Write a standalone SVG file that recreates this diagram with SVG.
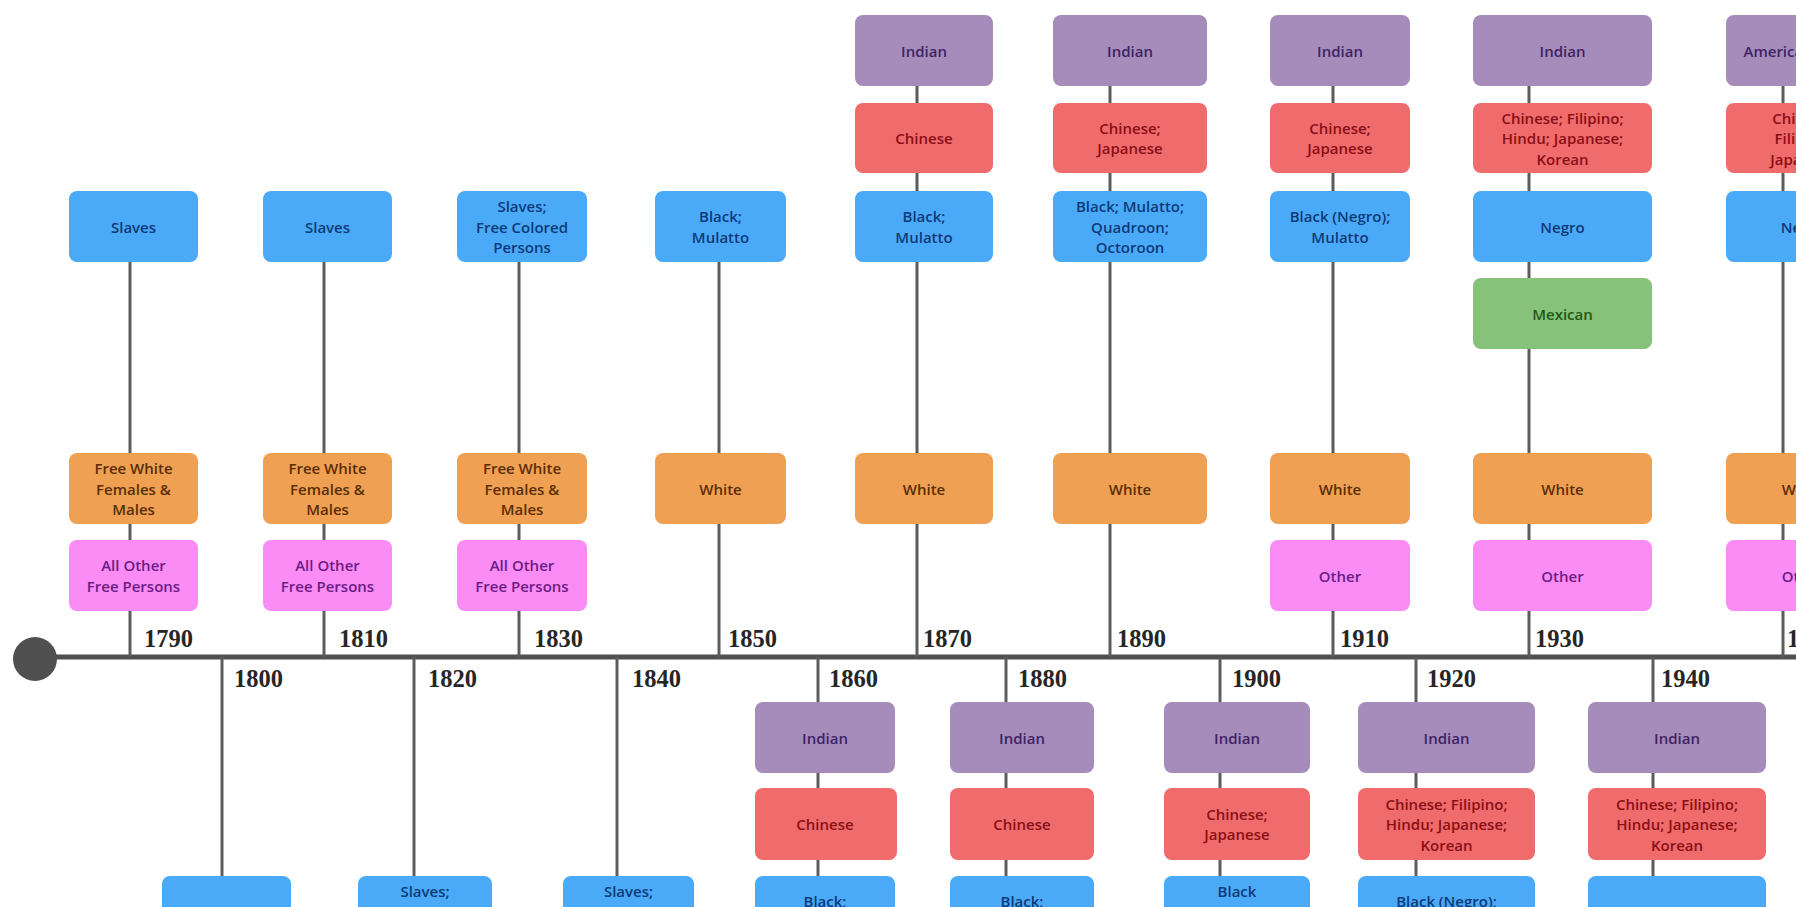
<svg xmlns="http://www.w3.org/2000/svg" width="1796" height="907" viewBox="0 0 1796 907">
<style>
.b{stroke:none}
.p{fill:#A68CBA}.r{fill:#F06B6B}.u{fill:#4BAAF8}.g{fill:#86C27A}.o{fill:#F0A052}.k{fill:#FB8BF5}
.t{font-family:"Open Sans","Liberation Sans",sans-serif;font-size:15px;font-weight:600;text-anchor:middle;dominant-baseline:central}
.tp{fill:#3E2266}.tr{fill:#8A0F16}.tu{fill:#0B3A78}.tg{fill:#1E5A14}.to{fill:#5A2E05}.tk{fill:#6B1C85}
.yr{font-family:"Liberation Serif","Times New Roman",serif;font-size:24.5px;font-weight:bold;fill:#262626}
.stem{stroke:#5c5c5c;stroke-width:3;fill:none}
.axis{stroke:#505050;stroke-width:5;fill:none}
</style>
<rect width="1796" height="907" fill="#ffffff"/>
<g id="connectors">
<line class="axis" x1="35" y1="657" x2="1796" y2="657"/>
<circle cx="35" cy="659" r="22" fill="#505050"/>
<line class="stem" x1="130" y1="230" x2="130" y2="657"/>
<line class="stem" x1="324" y1="230" x2="324" y2="657"/>
<line class="stem" x1="519" y1="230" x2="519" y2="657"/>
<line class="stem" x1="719" y1="230" x2="719" y2="657"/>
<line class="stem" x1="917" y1="50" x2="917" y2="657"/>
<line class="stem" x1="1110" y1="50" x2="1110" y2="657"/>
<line class="stem" x1="1333" y1="50" x2="1333" y2="657"/>
<line class="stem" x1="1529" y1="50" x2="1529" y2="657"/>
<line class="stem" x1="1783" y1="50" x2="1783" y2="657"/>
<line class="stem" x1="222" y1="657" x2="222" y2="907"/>
<line class="stem" x1="414" y1="657" x2="414" y2="907"/>
<line class="stem" x1="617" y1="657" x2="617" y2="907"/>
<line class="stem" x1="818" y1="657" x2="818" y2="907"/>
<line class="stem" x1="1006" y1="657" x2="1006" y2="907"/>
<line class="stem" x1="1220" y1="657" x2="1220" y2="907"/>
<line class="stem" x1="1416" y1="657" x2="1416" y2="907"/>
<line class="stem" x1="1653" y1="657" x2="1653" y2="907"/>
</g>
<g id="year-labels">
<text class="yr" x="144" y="647">1790</text>
<text class="yr" x="339" y="647">1810</text>
<text class="yr" x="534" y="647">1830</text>
<text class="yr" x="728" y="647">1850</text>
<text class="yr" x="923" y="647">1870</text>
<text class="yr" x="1117" y="647">1890</text>
<text class="yr" x="1340" y="647">1910</text>
<text class="yr" x="1535" y="647">1930</text>
<text class="yr" x="1787" y="647">1950</text>
<text class="yr" x="234" y="687">1800</text>
<text class="yr" x="428" y="687">1820</text>
<text class="yr" x="632" y="687">1840</text>
<text class="yr" x="829" y="687">1860</text>
<text class="yr" x="1018" y="687">1880</text>
<text class="yr" x="1232" y="687">1900</text>
<text class="yr" x="1427" y="687">1920</text>
<text class="yr" x="1661" y="687">1940</text>
</g>

<g id="n1790">
<rect class="u" x="69" y="191" width="129" height="71" rx="8"/>
<text class="t tu" x="133.5" y="226.5">Slaves</text>
<rect class="o" x="69" y="453" width="129" height="71" rx="8"/>
<text class="t to" x="133.5" y="488.5"><tspan x="133.5" dy="-20.5">Free White</tspan><tspan x="133.5" dy="20.5">Females &amp;</tspan><tspan x="133.5" dy="20.5">Males</tspan></text>
<rect class="k" x="69" y="540" width="129" height="71" rx="8"/>
<text class="t tk" x="133.5" y="575.5"><tspan x="133.5" dy="-10.25">All Other</tspan><tspan x="133.5" dy="20.5">Free Persons</tspan></text>
</g>
<g id="n1810">
<rect class="u" x="263" y="191" width="129" height="71" rx="8"/>
<text class="t tu" x="327.5" y="226.5">Slaves</text>
<rect class="o" x="263" y="453" width="129" height="71" rx="8"/>
<text class="t to" x="327.5" y="488.5"><tspan x="327.5" dy="-20.5">Free White</tspan><tspan x="327.5" dy="20.5">Females &amp;</tspan><tspan x="327.5" dy="20.5">Males</tspan></text>
<rect class="k" x="263" y="540" width="129" height="71" rx="8"/>
<text class="t tk" x="327.5" y="575.5"><tspan x="327.5" dy="-10.25">All Other</tspan><tspan x="327.5" dy="20.5">Free Persons</tspan></text>
</g>
<g id="n1830">
<rect class="u" x="457" y="191" width="130" height="71" rx="8"/>
<text class="t tu" x="522" y="226.5"><tspan x="522" dy="-20.5">Slaves;</tspan><tspan x="522" dy="20.5">Free Colored</tspan><tspan x="522" dy="20.5">Persons</tspan></text>
<rect class="o" x="457" y="453" width="130" height="71" rx="8"/>
<text class="t to" x="522" y="488.5"><tspan x="522" dy="-20.5">Free White</tspan><tspan x="522" dy="20.5">Females &amp;</tspan><tspan x="522" dy="20.5">Males</tspan></text>
<rect class="k" x="457" y="540" width="130" height="71" rx="8"/>
<text class="t tk" x="522" y="575.5"><tspan x="522" dy="-10.25">All Other</tspan><tspan x="522" dy="20.5">Free Persons</tspan></text>
</g>
<g id="n1850">
<rect class="u" x="655" y="191" width="131" height="71" rx="8"/>
<text class="t tu" x="720.5" y="226.5"><tspan x="720.5" dy="-10.25">Black;</tspan><tspan x="720.5" dy="20.5">Mulatto</tspan></text>
<rect class="o" x="655" y="453" width="131" height="71" rx="8"/>
<text class="t to" x="720.5" y="488.5">White</text>
</g>
<g id="n1870">
<rect class="p" x="855" y="15" width="138" height="71" rx="8"/>
<text class="t tp" x="924" y="50.5">Indian</text>
<rect class="r" x="855" y="103" width="138" height="70" rx="8"/>
<text class="t tr" x="924" y="138">Chinese</text>
<rect class="u" x="855" y="191" width="138" height="71" rx="8"/>
<text class="t tu" x="924" y="226.5"><tspan x="924" dy="-10.25">Black;</tspan><tspan x="924" dy="20.5">Mulatto</tspan></text>
<rect class="o" x="855" y="453" width="138" height="71" rx="8"/>
<text class="t to" x="924" y="488.5">White</text>
</g>
<g id="n1890">
<rect class="p" x="1053" y="15" width="154" height="71" rx="8"/>
<text class="t tp" x="1130" y="50.5">Indian</text>
<rect class="r" x="1053" y="103" width="154" height="70" rx="8"/>
<text class="t tr" x="1130" y="138"><tspan x="1130" dy="-10.25">Chinese;</tspan><tspan x="1130" dy="20.5">Japanese</tspan></text>
<rect class="u" x="1053" y="191" width="154" height="71" rx="8"/>
<text class="t tu" x="1130" y="226.5"><tspan x="1130" dy="-20.5">Black; Mulatto;</tspan><tspan x="1130" dy="20.5">Quadroon;</tspan><tspan x="1130" dy="20.5">Octoroon</tspan></text>
<rect class="o" x="1053" y="453" width="154" height="71" rx="8"/>
<text class="t to" x="1130" y="488.5">White</text>
</g>
<g id="n1910">
<rect class="p" x="1270" y="15" width="140" height="71" rx="8"/>
<text class="t tp" x="1340" y="50.5">Indian</text>
<rect class="r" x="1270" y="103" width="140" height="70" rx="8"/>
<text class="t tr" x="1340" y="138"><tspan x="1340" dy="-10.25">Chinese;</tspan><tspan x="1340" dy="20.5">Japanese</tspan></text>
<rect class="u" x="1270" y="191" width="140" height="71" rx="8"/>
<text class="t tu" x="1340" y="226.5"><tspan x="1340" dy="-10.25">Black (Negro);</tspan><tspan x="1340" dy="20.5">Mulatto</tspan></text>
<rect class="o" x="1270" y="453" width="140" height="71" rx="8"/>
<text class="t to" x="1340" y="488.5">White</text>
<rect class="k" x="1270" y="540" width="140" height="71" rx="8"/>
<text class="t tk" x="1340" y="575.5">Other</text>
</g>
<g id="n1930">
<rect class="p" x="1473" y="15" width="179" height="71" rx="8"/>
<text class="t tp" x="1562.5" y="50.5">Indian</text>
<rect class="r" x="1473" y="103" width="179" height="70" rx="8"/>
<text class="t tr" x="1562.5" y="138"><tspan x="1562.5" dy="-20.5">Chinese; Filipino;</tspan><tspan x="1562.5" dy="20.5">Hindu; Japanese;</tspan><tspan x="1562.5" dy="20.5">Korean</tspan></text>
<rect class="u" x="1473" y="191" width="179" height="71" rx="8"/>
<text class="t tu" x="1562.5" y="226.5">Negro</text>
<rect class="g" x="1473" y="278" width="179" height="71" rx="8"/>
<text class="t tg" x="1562.5" y="313.5">Mexican</text>
<rect class="o" x="1473" y="453" width="179" height="71" rx="8"/>
<text class="t to" x="1562.5" y="488.5">White</text>
<rect class="k" x="1473" y="540" width="179" height="71" rx="8"/>
<text class="t tk" x="1562.5" y="575.5">Other</text>
</g>
<g id="n1950">
<rect class="p" x="1726" y="15" width="154" height="71" rx="8"/>
<text class="t tp" x="1803" y="50.5">American Indian</text>
<rect class="r" x="1726" y="103" width="154" height="70" rx="8"/>
<text class="t tr" x="1803" y="138"><tspan x="1803" dy="-20.5">Chinese;</tspan><tspan x="1803" dy="20.5">Filipino;</tspan><tspan x="1803" dy="20.5">Japanese</tspan></text>
<rect class="u" x="1726" y="191" width="154" height="71" rx="8"/>
<text class="t tu" x="1803" y="226.5">Negro</text>
<rect class="o" x="1726" y="453" width="154" height="71" rx="8"/>
<text class="t to" x="1803" y="488.5">White</text>
<rect class="k" x="1726" y="540" width="154" height="71" rx="8"/>
<text class="t tk" x="1803" y="575.5">Other</text>
</g>

<g id="n1800">
<rect class="u" x="162" y="876" width="129" height="71" rx="8"/>
<text class="t tu" x="226.5" y="911.5">Slaves</text>
</g>
<g id="n1820">
<rect class="u" x="358" y="876" width="134" height="71" rx="8"/>
<text class="t tu" x="425" y="911.5"><tspan x="425" dy="-20.5">Slaves;</tspan><tspan x="425" dy="20.5">Free Colored</tspan><tspan x="425" dy="20.5">Persons</tspan></text>
</g>
<g id="n1840">
<rect class="u" x="563" y="876" width="131" height="71" rx="8"/>
<text class="t tu" x="628.5" y="911.5"><tspan x="628.5" dy="-20.5">Slaves;</tspan><tspan x="628.5" dy="20.5">Free Colored</tspan><tspan x="628.5" dy="20.5">Persons</tspan></text>
</g>
<g id="n1860">
<rect class="p" x="755" y="702" width="140" height="71" rx="8"/>
<text class="t tp" x="825" y="737.5">Indian</text>
<rect class="r" x="755" y="788" width="142" height="72" rx="8"/>
<text class="t tr" x="825" y="824">Chinese</text>
<rect class="u" x="755" y="876" width="140" height="71" rx="8"/>
<text class="t tu" x="825" y="911.5"><tspan x="825" dy="-10.25">Black;</tspan><tspan x="825" dy="20.5">Mulatto</tspan></text>
</g>
<g id="n1880">
<rect class="p" x="950" y="702" width="144" height="71" rx="8"/>
<text class="t tp" x="1022" y="737.5">Indian</text>
<rect class="r" x="950" y="788" width="144" height="72" rx="8"/>
<text class="t tr" x="1022" y="824">Chinese</text>
<rect class="u" x="950" y="876" width="144" height="71" rx="8"/>
<text class="t tu" x="1022" y="911.5"><tspan x="1022" dy="-10.25">Black;</tspan><tspan x="1022" dy="20.5">Mulatto</tspan></text>
</g>
<g id="n1900">
<rect class="p" x="1164" y="702" width="146" height="71" rx="8"/>
<text class="t tp" x="1237" y="737.5">Indian</text>
<rect class="r" x="1164" y="788" width="146" height="72" rx="8"/>
<text class="t tr" x="1237" y="824"><tspan x="1237" dy="-10.25">Chinese;</tspan><tspan x="1237" dy="20.5">Japanese</tspan></text>
<rect class="u" x="1164" y="876" width="146" height="71" rx="8"/>
<text class="t tu" x="1237" y="911.5"><tspan x="1237" dy="-20.5">Black</tspan><tspan x="1237" dy="20.5">(Negro or of</tspan><tspan x="1237" dy="20.5">Negro descent)</tspan></text>
</g>
<g id="n1920">
<rect class="p" x="1358" y="702" width="177" height="71" rx="8"/>
<text class="t tp" x="1446.5" y="737.5">Indian</text>
<rect class="r" x="1358" y="788" width="177" height="72" rx="8"/>
<text class="t tr" x="1446.5" y="824"><tspan x="1446.5" dy="-20.5">Chinese; Filipino;</tspan><tspan x="1446.5" dy="20.5">Hindu; Japanese;</tspan><tspan x="1446.5" dy="20.5">Korean</tspan></text>
<rect class="u" x="1358" y="876" width="177" height="71" rx="8"/>
<text class="t tu" x="1446.5" y="911.5"><tspan x="1446.5" dy="-10.25">Black (Negro);</tspan><tspan x="1446.5" dy="20.5">Mulatto</tspan></text>
</g>
<g id="n1940">
<rect class="p" x="1588" y="702" width="178" height="71" rx="8"/>
<text class="t tp" x="1677" y="737.5">Indian</text>
<rect class="r" x="1588" y="788" width="178" height="72" rx="8"/>
<text class="t tr" x="1677" y="824"><tspan x="1677" dy="-20.5">Chinese; Filipino;</tspan><tspan x="1677" dy="20.5">Hindu; Japanese;</tspan><tspan x="1677" dy="20.5">Korean</tspan></text>
<rect class="u" x="1588" y="876" width="178" height="71" rx="8"/>
<text class="t tu" x="1677" y="911.5">Negro</text>
</g>
</svg>
